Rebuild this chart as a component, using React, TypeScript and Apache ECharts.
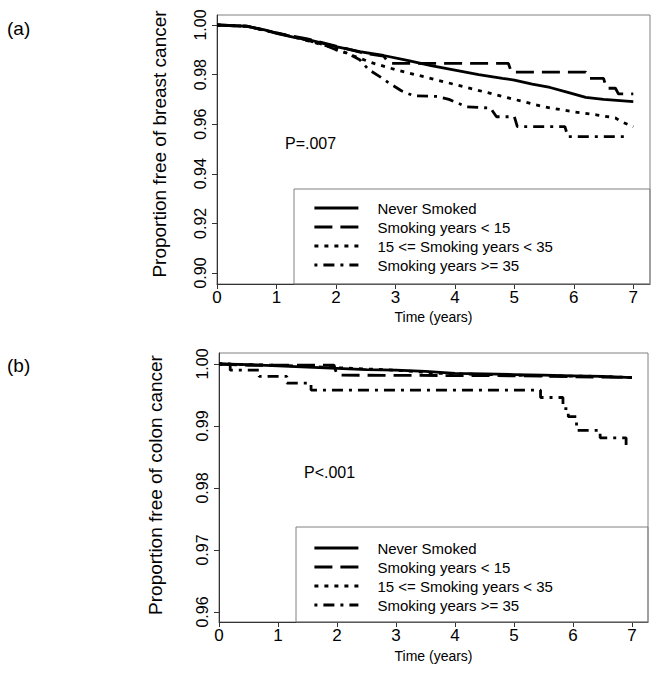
import React, { useEffect, useRef } from "react";
import * as echarts from "echarts";

// ---- data ----
const groupNames = [
  "Never Smoked",
  "Smoking years < 15",
  "15 <= Smoking years < 35",
  "Smoking years >= 35",
];
const xTicks = [0, 1, 2, 3, 4, 5, 6, 7];
const yTicksA = [0.9, 0.92, 0.94, 0.96, 0.98, 1.0];
const yTicksB = [0.96, 0.97, 0.98, 0.99, 1.0];

// (a) breast cancer
const breastNeverT = [0, 0.5, 0.8, 1.0, 1.3, 1.6, 2.0, 2.4, 2.8, 3.2, 3.6, 4.0, 4.4, 4.8, 5.0, 5.3, 5.6, 5.9, 6.2, 6.5, 7.0];
const breastNeverV = [1.0, 0.9995, 0.998, 0.9966, 0.995, 0.9937, 0.9913, 0.9893, 0.9877, 0.9857, 0.9836, 0.9818, 0.98, 0.9785, 0.9778, 0.9762, 0.9748, 0.9728, 0.9708, 0.97, 0.9691];
const breastLt15T = [0, 0.5, 1.0, 1.5, 2.0, 2.5, 2.8, 2.9, 4.9, 4.95, 6.2, 6.25, 6.5, 6.55, 6.7, 6.75, 7.0];
const breastLt15V = [1.0, 0.9995, 0.9968, 0.9945, 0.9915, 0.9885, 0.9875, 0.9845, 0.9845, 0.981, 0.981, 0.9785, 0.9785, 0.9745, 0.9745, 0.9722, 0.9722];
const breastMidT = [0, 0.5, 1.0, 1.4, 1.7, 2.0, 2.3, 2.6, 3.0, 3.5, 4.0, 4.5, 5.0, 5.5, 6.0, 6.4, 6.7, 6.8, 7.0];
const breastMidV = [1.0, 0.9995, 0.9968, 0.9945, 0.9925, 0.9905, 0.9875, 0.9848, 0.982, 0.979, 0.976, 0.973, 0.97, 0.967, 0.965, 0.9637, 0.9625, 0.961, 0.959];
const breastGe35T = [0, 0.5, 1.0, 1.5, 1.8, 2.0, 2.2, 2.4, 2.55, 2.75, 2.9, 3.1, 3.3, 3.7, 3.9, 4.2, 4.6, 4.7, 5.0, 5.05, 5.85, 5.9, 6.92];
const breastGe35V = [1.0, 0.9995, 0.9968, 0.994, 0.992, 0.99, 0.9885, 0.986, 0.982, 0.979, 0.9765, 0.9735, 0.9715, 0.9712, 0.97, 0.967, 0.9665, 0.963, 0.963, 0.959, 0.959, 0.955, 0.955];

// (b) colon cancer
const colonNeverT = [0, 0.5, 1, 1.5, 2, 2.5, 3, 3.5, 4, 4.5, 5, 5.5, 6, 6.5, 7.0];
const colonNeverV = [1.0, 0.9999, 0.9997, 0.9995, 0.9993, 0.9991, 0.999, 0.9988, 0.9985, 0.9984, 0.9983, 0.9982, 0.9981, 0.998, 0.9978];
const colonLt15T = [0, 0.5, 1.95, 2.0, 5.0, 7.0];
const colonLt15V = [1.0, 0.9998, 0.9998, 0.9982, 0.9981, 0.9978];
const colonMidT = [0, 1, 2, 3, 3.7, 4.5, 5.5, 6.5, 7.0];
const colonMidV = [1.0, 0.9998, 0.9994, 0.999, 0.9985, 0.9983, 0.9981, 0.998, 0.9978];
const colonGe35T = [0, 0.19, 0.19, 0.68, 0.68, 1.15, 1.15, 1.56, 1.56, 5.45, 5.45, 5.83, 5.83, 5.92, 5.92, 6.06, 6.06, 6.46, 6.46, 6.9, 6.9, 6.95];
const colonGe35V = [1.0, 1.0, 0.999, 0.999, 0.998, 0.998, 0.9969, 0.9969, 0.9958, 0.9958, 0.9946, 0.9946, 0.9928, 0.9928, 0.9915, 0.9915, 0.9893, 0.9893, 0.9881, 0.9881, 0.9868, 0.9868];

const pTextA = "P=.007";
const pTextB = "P<.001";

// ---- styles ----
const FONT = "'Liberation Sans', Arial, sans-serif";
const dashes: any[] = ["solid", [18, 8], [4, 6], [3, 6, 11, 6]];

const zip = (t: number[], v: number[]) => t.map((x, i) => [x, v[i]]);

export default function App() {
  const ref = useRef<HTMLDivElement>(null);
  useEffect(() => {
    const chart = echarts.init(ref.current!, null, { renderer: "svg" });
    const panelA = [
      zip(breastNeverT, breastNeverV),
      zip(breastLt15T, breastLt15V),
      zip(breastMidT, breastMidV),
      zip(breastGe35T, breastGe35V),
    ];
    const panelB = [
      zip(colonNeverT, colonNeverV),
      zip(colonLt15T, colonLt15V),
      zip(colonMidT, colonMidV),
      zip(colonGe35T, colonGe35V),
    ];
    const mkSeries = (data: number[][], i: number, idx: number) => ({
      type: "line",
      name: groupNames[i],
      xAxisIndex: idx,
      yAxisIndex: idx,
      data,
      symbol: "none",
      color: "#000",
      itemStyle: { color: "#000" },
      lineStyle: { color: "#000", width: 2.8, type: dashes[i], cap: "butt" },
      z: 3,
    });
    const xAxisCfg = (idx: number, max: number, gap: number) => ({
      type: "value",
      gridIndex: idx,
      min: 0,
      max,
      name: "Time (years)",
      nameLocation: "middle",
      nameGap: gap,
      nameTextStyle: { fontFamily: FONT, fontSize: 14, color: "#000" },
      axisLine: { show: true, lineStyle: { color: "#333", width: 1 } },
      axisTick: { show: true, length: 5, customValues: xTicks, lineStyle: { color: "#333" } },
      axisLabel: {
        customValues: xTicks,
        margin: 5,
        fontFamily: FONT,
        fontSize: 17,
        color: "#000",
        formatter: (v: number) => String(v),
      },
      splitLine: { show: false },
    });
    const yAxisCfg = (idx: number, min: number, max: number, ticks: number[]) => ({
      type: "value",
      gridIndex: idx,
      min,
      max,
      axisLine: { show: true, lineStyle: { color: "#333", width: 1 } },
      axisTick: { show: true, length: 5, customValues: ticks, lineStyle: { color: "#333" } },
      axisLabel: {
        customValues: ticks,
        rotate: 90,
        margin: 9,
        fontFamily: FONT,
        fontSize: 16,
        color: "#000",
        formatter: (v: number) => v.toFixed(2),
      },
      splitLine: { show: false },
    });
    const legendCfg = (top: number) => ({
      show: true,
      data: groupNames,
      orient: "vertical",
      left: 313,
      top,
      itemWidth: 44,
      itemHeight: 15,
      itemGap: 4,
      padding: 0,
      selectedMode: false,
      itemStyle: { opacity: 0 },
      lineStyle: { width: 2.8, type: "inherit", color: "#000" },
      textStyle: { fontFamily: FONT, fontSize: 15, color: "#000", padding: [0, 0, 0, 14] },
    });
    const textEl = (text: string, x: number, y: number, size: number, extra: any = {}) => ({
      type: "text",
      x,
      y,
      ...extra,
      style: {
        text,
        fill: "#000",
        font: `${size}px ${FONT}`,
        align: extra.align || "left",
        verticalAlign: "middle",
      },
      z: 10,
    });
    chart.setOption({
      animation: false,
      backgroundColor: "#fff",
      grid: [
        { left: 217, top: 15, width: 433, height: 269, show: true, borderColor: "#808080", borderWidth: 1, backgroundColor: "transparent" },
        { left: 219, top: 353, width: 429, height: 269, show: true, borderColor: "#808080", borderWidth: 1, backgroundColor: "transparent" },
      ],
      xAxis: [xAxisCfg(0, 433 / 59.47, 26), xAxisCfg(1, 429 / 59, 27)],
      yAxis: [
        yAxisCfg(0, 0.9 - 11 / 2480, 1 + 10 / 2480, yTicksA),
        yAxisCfg(1, 0.96 - 10 / 6200, 1 + 11 / 6200, yTicksB),
      ],
      legend: [legendCfg(200.5), legendCfg(540.5)],
      series: [
        ...panelA.map((d, i) => mkSeries(d, i, 0)),
        ...panelB.map((d, i) => mkSeries(d, i, 1)),
      ],
      graphic: [
        { type: "rect", shape: { x: 294, y: 189, width: 356, height: 95 }, style: { fill: "none", stroke: "#808080", lineWidth: 1 }, z: 5 },
        { type: "rect", shape: { x: 296, y: 527, width: 352, height: 95 }, style: { fill: "none", stroke: "#808080", lineWidth: 1 }, z: 5 },
        textEl("(a)", 7, 28, 19),
        textEl("(b)", 7, 365, 19),
        textEl(pTextA, 285, 143, 16),
        textEl(pTextB, 304, 472, 16),
        textEl("Proportion free of breast cancer", 159, 144, 19, { rotation: Math.PI / 2, align: "center" }),
        textEl("Proportion free of colon cancer", 155, 485, 19, { rotation: Math.PI / 2, align: "center" }),
      ],
    });
    return () => chart.dispose();
  }, []);
  return (
    <div
      ref={ref}
      style={{ position: "fixed", left: 0, top: 0, width: 660, height: 674, background: "#fff" }}
    />
  );
}
